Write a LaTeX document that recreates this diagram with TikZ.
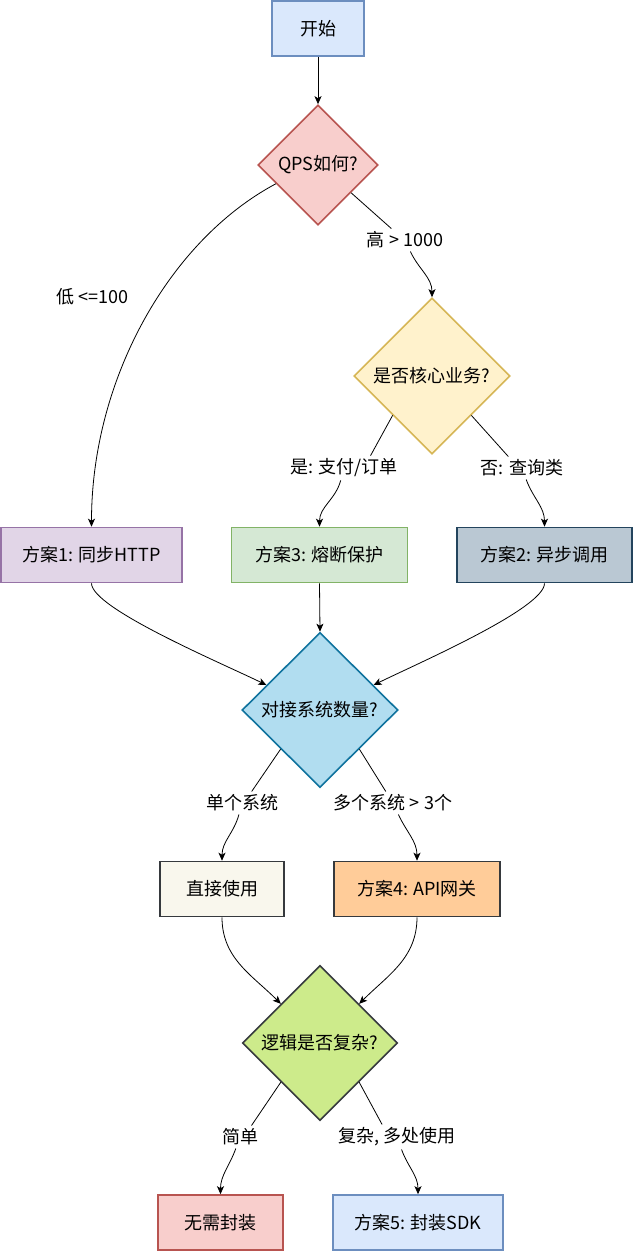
\documentclass[tikz,border=0pt]{standalone}
\usepackage{fontspec}
\setmainfont{Noto Sans CJK SC}
\usetikzlibrary{arrows.meta,shapes.geometric}

\definecolor{bluefill}{HTML}{DAE8FC}
\definecolor{blueline}{HTML}{6C8EBF}
\definecolor{redfill}{HTML}{F8CECC}
\definecolor{redline}{HTML}{B85450}
\definecolor{yellowfill}{HTML}{FFF2CC}
\definecolor{yellowline}{HTML}{D6B656}
\definecolor{purplefill}{HTML}{E1D5E7}
\definecolor{purpleline}{HTML}{9673A6}
\definecolor{greenfill}{HTML}{D5E8D4}
\definecolor{greenline}{HTML}{82B366}
\definecolor{slatefill}{HTML}{BAC8D3}
\definecolor{slateline}{HTML}{23445D}
\definecolor{cyanfill}{HTML}{B1DDF0}
\definecolor{cyanline}{HTML}{10739E}
\definecolor{creamfill}{HTML}{F9F7ED}
\definecolor{darkline}{HTML}{36393D}
\definecolor{orangefill}{HTML}{FFCC99}
\definecolor{limefill}{HTML}{CDEB8B}

\begin{document}
\begin{tikzpicture}
  [x=1pt, y=1pt,
   box/.style={rectangle, line width=1.6pt, minimum height=55pt, inner sep=0pt,
               font=\fontsize{18}{21}\selectfont},
   decision/.style={diamond, aspect=1, line width=1.6pt, inner sep=0pt,
                    font=\fontsize{18}{21}\selectfont},
   lbl/.style={inner sep=3pt, font=\fontsize{18}{21}\selectfont},
   post/.style={-{Stealth[length=8pt,width=7pt,inset=2pt]}, line width=0.8pt}]

  \useasboundingbox (0,0) rectangle (633,-1251);

  % boxes and decisions
  \node[box, fill=bluefill, draw=blueline, minimum width=92pt]      (start)  at (318,-28.5)    {开始};
  \node[decision, fill=redfill, draw=redline,
        minimum width=120pt, minimum height=120pt]                  (qps)    at (318,-165)     {QPS如何?};
  \node[decision, fill=yellowfill, draw=yellowline,
        minimum width=156pt, minimum height=156pt]                  (core)   at (432,-376)     {是否核心业务?};
  \node[box, fill=purplefill, draw=purpleline, minimum width=181pt] (plan1)  at (91.5,-555)    {方案1: 同步HTTP};
  \node[box, fill=greenfill, draw=greenline, minimum width=176pt]   (plan3)  at (319.5,-555)   {方案3: 熔断保护};
  \node[box, fill=slatefill, draw=slateline, minimum width=175pt]   (plan2)  at (544.5,-555)   {方案2: 异步调用};
  \node[decision, fill=cyanfill, draw=cyanline,
        minimum width=156pt, minimum height=155pt]                  (sys)    at (320,-710)     {对接系统数量?};
  \node[box, fill=creamfill, draw=darkline, minimum width=124pt]    (direct) at (222,-889)     {直接使用};
  \node[box, fill=orangefill, draw=darkline, minimum width=166pt]   (plan4)  at (417,-889)     {方案4: API网关};
  \node[decision, fill=limefill, draw=darkline,
        minimum width=155pt, minimum height=155pt]                  (logic)  at (320,-1043)    {逻辑是否复杂?};
  \node[box, fill=redfill, draw=redline, minimum width=125pt]       (nowrap) at (220.5,-1222.5) {无需封装};
  \node[box, fill=bluefill, draw=blueline, minimum width=170pt]     (plan5)  at (418,-1222.5)  {方案5: 封装SDK};

  % edge labels
  \node[lbl] (lowlbl)  at (92,-297)   {低 <=100};
  \node[lbl] (hilbl)   at (405,-240)  {高 > 1000};
  \node[lbl] (yeslbl)  at (344,-468)  {是: 支付/订单};
  \node[lbl] (nolbl)   at (522,-468)  {否: 查询类};
  \node[lbl] (onelbl)  at (242,-803)  {单个系统};
  \node[lbl] (manylbl) at (393,-803)  {多个系统 > 3个};
  \node[lbl] (simplbl) at (240,-1137) {简单};
  \node[lbl] (cplxlbl) at (397,-1137) {复杂, 多处使用};

  % connectors
  \draw[post] (start) -- (qps);
  \draw[post] (qps.204) .. controls +(-107,-57) and +(0,147) .. (plan1.north);
  \draw[post] (qps.320) -- (hilbl.140) (hilbl.-65) to[out=-65,in=90] (core);

  \draw[post] (core.south west) -- (yeslbl.25) (yeslbl.-105) to[out=-105,in=90] (plan3);
  \draw[post] (core.south east) -- (nolbl.140) (nolbl.-70) to[out=-70,in=90] (plan2);

  \draw[post] (plan1.south) .. controls +(0,-25) and +(-45,22) .. (sys.155);
  \draw[post] (plan3.south) -- (sys.north);
  \draw[post] (plan2.south) .. controls +(0,-25) and +(45,22) .. (sys.25);

  \draw[post] (sys.south west) -- (onelbl.50) (onelbl.-105) to[out=-105,in=90] (direct);
  \draw[post] (sys.south east) -- (manylbl.122) (manylbl.-65) to[out=-65,in=90] (plan4);

  \draw[post] (direct.south) to[out=-90,in=135] (logic);
  \draw[post] (plan4.south) to[out=-90,in=45] (logic);

  \draw[post] (logic.south west) -- (simplbl.45) (simplbl.-110) to[out=-110,in=90] (nowrap);
  \draw[post] (logic.south east) -- (cplxlbl.140) (cplxlbl.-70) to[out=-70,in=90] (plan5);
\end{tikzpicture}
\end{document}
